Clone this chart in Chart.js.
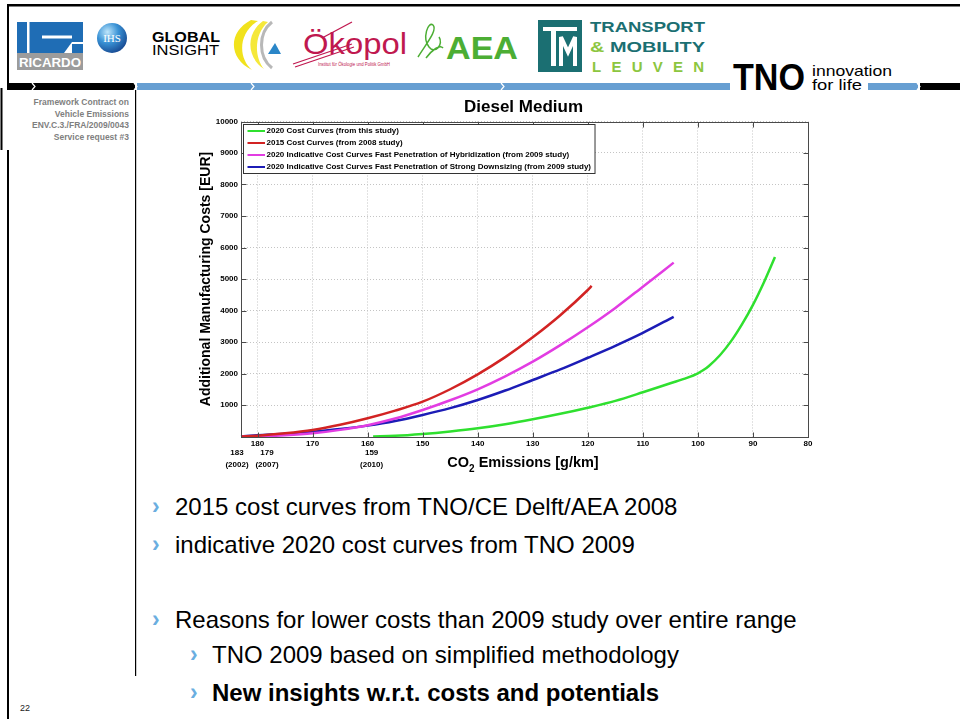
<!DOCTYPE html>
<html>
<head>
<meta charset="utf-8">
<title>Diesel Medium</title>
<script src="https://cdn.jsdelivr.net/npm/chart.js@4.4.0/dist/chart.umd.min.js"></script>
<style>
  html, body { margin: 0; padding: 0; background: #fff; }
  #slide { position: relative; width: 960px; height: 719px; overflow: hidden;
           font-family: "Liberation Sans", Arial, sans-serif; }
  #art { position: absolute; left: 0; top: 0; }
  #plot { position: absolute; left: 180px; top: 90px; width: 650px; height: 390px; }
  .side { position: absolute; left: 0; width: 129px; text-align: right; color: #7f7f7f;
          font-weight: bold; font-size: 8.5px; line-height: 11.5px; top: 97px; }
  .b { position: absolute; font-size: 24px; line-height: 24px; color: #000; white-space: nowrap; }
  .chev { position: absolute; font-size: 23px; line-height: 24px; color: #6aaee0; font-weight: bold; }
  .pg { position: absolute; left: 20px; top: 703px; font-size: 9px; color: #222; }
</style>
</head>
<body>
<div id="slide">
  <svg id="art" width="960" height="719" xmlns="http://www.w3.org/2000/svg" font-family="Liberation Sans, Arial, sans-serif">
    <defs>
      <radialGradient id="ihsGrad" cx="0.35" cy="0.3" r="0.8">
        <stop offset="0" stop-color="#bfe6fb"/>
        <stop offset="0.45" stop-color="#3a93d6"/>
        <stop offset="1" stop-color="#123f88"/>
      </radialGradient>
    </defs>
    <!-- page frame -->
    <rect x="7" y="4" width="953" height="2.5" fill="#000"/>
    <rect x="7" y="4" width="2" height="84" fill="#000"/>
    <rect x="0.5" y="88" width="2" height="62" fill="#000"/>
    <rect x="7" y="150" width="2" height="569" fill="#000"/>

    <!-- RICARDO -->
    <rect x="17" y="22" width="66" height="31" fill="#1f6db5"/>
    <rect x="27" y="22" width="2.5" height="31" fill="#fff"/>
    <rect x="42" y="35.5" width="30" height="3" fill="#fff"/>
    <polygon points="64,53 72,42 83,42 83,53" fill="#fff"/>
    <rect x="72" y="44" width="11" height="9" fill="#1f6db5"/>
    <rect x="17" y="53" width="66" height="17" fill="#9c9c9c"/>
    <text x="50" y="66.5" text-anchor="middle" font-size="13" font-weight="bold" fill="#fff" textLength="62" lengthAdjust="spacingAndGlyphs">RICARDO</text>

    <!-- IHS -->
    <circle cx="112" cy="38" r="15" fill="url(#ihsGrad)"/>
    <text x="112" y="42" text-anchor="middle" font-family="Liberation Serif, serif" font-size="11" fill="#fff">IHS</text>

    <!-- GLOBAL INSIGHT -->
    <text x="152" y="42" font-size="14" font-weight="900" textLength="68" lengthAdjust="spacingAndGlyphs">GLOBAL</text>
    <text x="152" y="55" font-size="14" textLength="67" lengthAdjust="spacingAndGlyphs">INSIGHT</text>

    <!-- ring mark -->
    <path d="M251,20 C228,32 228,58 252,70 C238,58 238,33 258,21 Z" fill="#f1e21c"/>
    <path d="M263,21 C246,33 246,57 264,69 C254,57 254,34 268,22 Z" fill="#f5e83a"/>
    <path d="M272,22 C258,33 258,57 272,68" fill="none" stroke="#b8b8b8" stroke-width="3"/>
    <polygon points="268,54 281,54 275,43" fill="#2a86c8"/>

    <!-- Okopol -->
    <path d="M293,64 L352,44" stroke="#c0184f" stroke-width="1.2"/>
    <path d="M295,67 L354,47" stroke="#c0184f" stroke-width="1.2"/>
    <path d="M322,38 L352,22" stroke="#c0184f" stroke-width="1.2"/>
    <text x="303" y="54" font-size="29" fill="#c0184f" textLength="104" lengthAdjust="spacingAndGlyphs">Ökopol</text>
    <text x="318" y="66" font-size="4.5" fill="#c0184f" textLength="72" lengthAdjust="spacingAndGlyphs">Institut für Ökologie und Politik GmbH</text>

    <!-- AEA -->
    <path d="M418,57 C426,44 438,30 433,25 C428,21 422,38 429,47 C435,55 444,44 439,37 M426,58 C432,50 440,44 443,48" fill="none" stroke="#4cae34" stroke-width="1.5"/>
    <text x="446" y="59" font-size="32" font-weight="bold" fill="#4cae34" textLength="72" lengthAdjust="spacingAndGlyphs">AEA</text>

    <!-- Transport & Mobility Leuven -->
    <rect x="538" y="20" width="44" height="52" fill="#1b6f72"/>
    <rect x="543" y="27" width="34" height="4" fill="#fff"/>
    <rect x="551" y="27" width="5" height="39" fill="#fff"/>
    <polyline points="561,66 561,37 568,52 575,37 575,66" fill="none" stroke="#fff" stroke-width="4"/>
    <text x="590" y="32" font-size="15" font-weight="bold" fill="#1b6f72" textLength="115" lengthAdjust="spacingAndGlyphs">TRANSPORT</text>
    <text x="590" y="52" font-size="15" font-weight="bold" fill="#1b6f72" textLength="115" lengthAdjust="spacingAndGlyphs"><tspan fill="#8cc63f">&amp;</tspan> MOBILITY</text>
    <text x="592" y="72" font-size="15" font-weight="bold" fill="#8cc63f" textLength="112" lengthAdjust="spacing">LEUVEN</text>

    <!-- header bar -->
    <rect x="7" y="83" width="128" height="7" fill="#000"/>
    <rect x="137" y="83" width="593" height="7" fill="#679fd2"/>
    <rect x="868" y="83" width="50" height="7" fill="#679fd2"/>
    <rect x="920" y="83" width="40" height="7" fill="#000"/>
    <g fill="none" stroke="#fff" stroke-width="1.2">
      <polyline points="32,83 35,86.5 32,90"/>
      <polyline points="134,83 137,86.5 134,90"/>
      <polyline points="251,83 254,86.5 251,90"/>
      <polyline points="501,83 504,86.5 501,90"/>
      <polyline points="917,83 920,86.5 917,90"/>
    </g>

    <!-- TNO -->
    <text x="733" y="90" font-size="37" font-weight="900" fill="#000" textLength="72" lengthAdjust="spacingAndGlyphs">TNO</text>
    <text x="812" y="76" font-size="15" fill="#000" textLength="80" lengthAdjust="spacingAndGlyphs">innovation</text>
    <text x="812" y="90" font-size="15" fill="#000" textLength="50" lengthAdjust="spacingAndGlyphs">for life</text>

    <!-- sidebar rule -->
    <rect x="135" y="90" width="1.2" height="586" fill="#000"/>
  </svg>

  <div class="side">Framework Contract on<br>Vehicle Emissions<br>ENV.C.3./FRA/2009/0043<br>Service request #3</div>

  <div id="plot"><canvas id="chart"></canvas></div>

  <div class="chev" style="left:152px;top:494px">›</div>
  <div class="b" style="left:175px;top:495px">2015 cost curves from TNO/CE Delft/AEA 2008</div>
  <div class="chev" style="left:152px;top:532px">›</div>
  <div class="b" style="left:175px;top:533px">indicative 2020 cost curves from TNO 2009</div>
  <div class="chev" style="left:152px;top:607px">›</div>
  <div class="b" style="left:175px;top:608px">Reasons for lower costs than 2009 study over entire range</div>
  <div class="chev" style="left:190px;top:642px">›</div>
  <div class="b" style="left:212px;top:643px">TNO 2009 based on simplified methodology</div>
  <div class="chev" style="left:190px;top:680px">›</div>
  <div class="b" style="left:212px;top:681px;font-weight:bold">New insights w.r.t. costs and potentials</div>

  <div class="pg">22</div>
</div>

<script>
// CO2 emissions [g/km] and additional manufacturing costs [EUR] per curve
const co2Green  = [159, 155, 150, 145, 140, 135, 130, 125, 120, 115, 110, 105, 102, 100, 99, 98, 96, 94, 92, 90, 88, 86];
const costGreen = [0, 20, 79, 160, 260, 390, 546, 720, 914, 1130, 1403, 1689, 1860, 2006, 2110, 2240, 2580, 3020, 3560, 4180, 4900, 5700];

const co2Red  = [183, 180, 175, 170, 165, 160, 155, 150, 145, 140, 135, 130, 125, 120, 119.3];
const costRed = [0, 25, 100, 206, 370, 577, 820, 1106, 1500, 1974, 2520, 3149, 3850, 4651, 4780];

const co2Magenta  = [183, 180, 175, 170, 165, 160, 155, 150, 145, 140, 135, 130, 125, 120, 115, 110, 104.4];
const costMagenta = [0, 5, 40, 101, 210, 360, 570, 841, 1150, 1498, 1910, 2375, 2900, 3467, 4080, 4756, 5520];

const co2Blue  = [183, 180, 175, 170, 165, 160, 155, 150, 145, 140, 135, 130, 125, 120, 115, 110, 104.4];
const costBlue = [0, 38, 85, 152, 235, 345, 490, 683, 900, 1159, 1460, 1794, 2130, 2500, 2880, 3290, 3800];

const seriesLabels = [
  '2020 Cost Curves (from this study)',
  '2015 Cost Curves (from 2008 study)',
  '2020 Indicative Cost Curves Fast Penetration of Hybridization (from 2009 study)',
  '2020 Indicative Cost Curves Fast Penetration of Strong Downsizing (from 2009 study)'
];

// axis ticks
const xTicks = [180, 170, 160, 150, 140, 130, 120, 110, 100, 90, 80];
const yTicks = [1000, 2000, 3000, 4000, 5000, 6000, 7000, 8000, 9000, 10000];

// reference emission levels marked under the x axis
const refLevels = [183, 179, 159];
const refYears  = ['(2002)', '(2007)', '(2010)'];

const FONT = '"Liberation Sans", Arial, sans-serif';
const pts = (xs, ys) => xs.map((v, i) => ({ x: v, y: ys[i] }));

function line(label, xs, ys, color) {
  return {
    label, data: pts(xs, ys), borderColor: color, backgroundColor: color,
    borderWidth: 2.5, pointRadius: 0, fill: false,
    cubicInterpolationMode: 'monotone', clip: false
  };
}

const decorations = {
  id: 'decorations',
  afterDraw(chart) {
    const { ctx, chartArea: a, scales: { x, y } } = chart;
    const L = Math.round(a.left) + 0.5, R = Math.round(a.right) + 0.5;
    const T = Math.round(a.top) + 0.5, B = Math.round(a.bottom) + 0.5;
    ctx.save();

    // axes box with inward ticks on every side
    ctx.strokeStyle = '#4a4a4a';
    ctx.lineWidth = 1;
    ctx.strokeRect(L, T, R - L, B - T);
    ctx.beginPath();
    x.ticks.forEach(t => {
      const px = Math.round(x.getPixelForValue(t.value)) + 0.5;
      ctx.moveTo(px, B); ctx.lineTo(px, B - 5);
      ctx.moveTo(px, T); ctx.lineTo(px, T + 5);
    });
    y.ticks.forEach(t => {
      const py = Math.round(y.getPixelForValue(t.value)) + 0.5;
      ctx.moveTo(L, py); ctx.lineTo(L + 5, py);
      ctx.moveTo(R, py); ctx.lineTo(R - 5, py);
    });
    ctx.stroke();

    // title
    ctx.fillStyle = '#000';
    ctx.textAlign = 'center';
    ctx.textBaseline = 'middle';
    ctx.font = 'bold 17px ' + FONT;
    ctx.fillText('Diesel Medium', (a.left + a.right) / 2 - 1, 17);

    // y axis title
    ctx.save();
    ctx.translate(26, (a.top + a.bottom) / 2);
    ctx.rotate(-Math.PI / 2);
    ctx.font = 'bold 14px ' + FONT;
    ctx.fillText('Additional Manufacturing Costs [EUR]', 0, 0);
    ctx.restore();

    // x axis title with subscript
    const big = 'bold 14.5px ' + FONT, small = 'bold 10px ' + FONT;
    ctx.textAlign = 'left';
    ctx.textBaseline = 'alphabetic';
    ctx.font = big;
    const w1 = ctx.measureText('CO').width, w3 = ctx.measureText(' Emissions [g/km]').width;
    ctx.font = small;
    const w2 = ctx.measureText('2').width;
    const sx = 343 - (w1 + w2 + w3) / 2;
    const base = 377;
    ctx.font = big; ctx.fillText('CO', sx, base);
    ctx.font = small; ctx.fillText('2', sx + w1, base + 5);
    ctx.font = big; ctx.fillText(' Emissions [g/km]', sx + w1 + w2, base);

    // reference levels
    const nudge = { 183: -4, 179: 4, 159: -1.5 };
    ctx.textAlign = 'center';
    ctx.textBaseline = 'middle';
    ctx.font = 'bold 8px ' + FONT;
    refLevels.forEach((v, i) => {
      const px = x.getPixelForValue(v) + (nudge[v] || 0);
      ctx.fillText(String(v), px, 363);
      ctx.fillText(refYears[i], px, 375);
    });

    // legend box
    const ds = chart.data.datasets;
    ctx.font = 'bold 8px ' + FONT;
    const textX = 86.5;
    const wMax = Math.max(...ds.map(d => ctx.measureText(d.label).width));
    const bx = 63.5, by = 34.5, bw = textX + wMax + 4 - bx, bh = 49;
    ctx.fillStyle = '#fff';
    ctx.fillRect(bx, by, bw, bh);
    ctx.strokeStyle = '#333';
    ctx.lineWidth = 1;
    ctx.strokeRect(bx, by, bw, bh);
    ds.forEach((d, i) => {
      const ry = 41 + i * 12;
      ctx.strokeStyle = d.borderColor;
      ctx.lineWidth = 2;
      ctx.beginPath(); ctx.moveTo(67.5, ry); ctx.lineTo(85, ry); ctx.stroke();
      ctx.fillStyle = '#000';
      ctx.textAlign = 'left';
      ctx.fillText(d.label, textX, ry);
    });
    ctx.restore();
  }
};

new Chart(document.getElementById('chart'), {
  type: 'line',
  data: {
    datasets: [
      line(seriesLabels[0], co2Green, costGreen, '#2fe02f'),
      line(seriesLabels[1], co2Red, costRed, '#d22323'),
      line(seriesLabels[2], co2Magenta, costMagenta, '#e23ce2'),
      line(seriesLabels[3], co2Blue, costBlue, '#1c1cb6')
    ]
  },
  options: {
    responsive: true,
    maintainAspectRatio: false,
    animation: false,
    layout: { padding: { left: 0, top: 31.5, right: 22, bottom: 0 } },
    plugins: { legend: { display: false }, title: { display: false }, tooltip: { enabled: false } },
    scales: {
      x: {
        type: 'linear', reverse: true, min: 80, max: 183,
        afterBuildTicks: s => { s.ticks = xTicks.map(v => ({ value: v })); },
        afterFit: s => { s.height = 43.5; },
        grid: { color: '#c4c4c4', lineWidth: 1, drawTicks: false },
        border: { display: false, dash: [1, 2] },
        ticks: { color: '#000', font: { family: FONT, size: 8, weight: 'bold' }, padding: 2,
                 maxRotation: 0, autoSkip: false, callback: v => String(v) }
      },
      y: {
        type: 'linear', min: 0, max: 10000,
        afterBuildTicks: s => { s.ticks = yTicks.map(v => ({ value: v })); },
        afterFit: s => { s.width = 61; },
        grid: { color: '#c4c4c4', lineWidth: 1, drawTicks: false },
        border: { display: false, dash: [1, 2] },
        ticks: { color: '#000', font: { family: FONT, size: 8, weight: 'bold' }, padding: 3,
                 autoSkip: false, callback: v => String(v) }
      }
    }
  },
  plugins: [decorations]
});
</script>
</body>
</html>
